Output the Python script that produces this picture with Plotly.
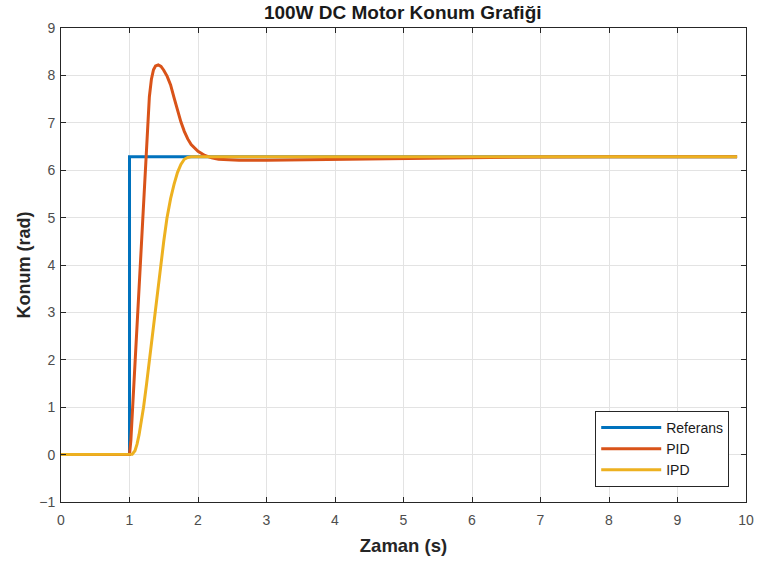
import plotly.graph_objects as go

# Referans (step input, 2*pi rad at t=1 s)
ref_t = [0, 1.0, 1.0, 9.87]
ref_y = [0, 0, 6.283, 6.283]

# PID response
pid_t = [0, 1.0, 1.02, 1.05, 1.08, 1.11, 1.14, 1.17, 1.20, 1.23, 1.26, 1.29, 1.32, 1.35, 1.38, 1.42,
         1.46, 1.50, 1.55, 1.60, 1.65, 1.70, 1.75, 1.80, 1.85, 1.90, 1.95, 2.0, 2.1, 2.2, 2.3, 2.45,
         2.6, 3.0, 4.0, 5.0, 6.0, 7.0, 8.0, 9.87]
pid_y = [0, 0, 0.3, 1.1, 1.9, 2.75, 3.6, 4.45, 5.3, 6.1, 6.95, 7.55, 7.92, 8.12, 8.2, 8.22,
         8.19, 8.11, 7.98, 7.8, 7.53, 7.27, 7.02, 6.82, 6.66, 6.54, 6.46, 6.40, 6.31, 6.26, 6.23, 6.215,
         6.21, 6.21, 6.23, 6.25, 6.27, 6.28, 6.283, 6.283]

# IPD response
ipd_t = [0, 1.0, 1.04, 1.08, 1.11, 1.14, 1.17, 1.205, 1.25, 1.29, 1.33, 1.366, 1.41, 1.45, 1.50,
         1.547, 1.60, 1.65, 1.70, 1.75, 1.80, 1.85, 1.90, 2.1, 3.0, 5.0, 9.87]
ipd_y = [0, 0, 0.01, 0.08, 0.22, 0.42, 0.68, 1.0, 1.5, 1.98, 2.5, 3.0, 3.5, 3.98, 4.5,
         4.99, 5.4, 5.7, 5.95, 6.12, 6.23, 6.27, 6.283, 6.285, 6.283, 6.283, 6.283]

series = [
    ("Referans", ref_t, ref_y, "#0072BD"),
    ("PID", pid_t, pid_y, "#D95319"),
    ("IPD", ipd_t, ipd_y, "#EDB120"),
]

x_ticks = list(range(0, 11))
y_ticks = list(range(-1, 10))

FONT = "Liberation Sans, Arial, sans-serif"

fig = go.Figure()
for name, t, y, c in series:
    fig.add_trace(go.Scatter(x=t, y=y, mode="lines", name=name,
                             line=dict(color=c, width=3)))

axis_common = dict(
    showgrid=True, gridcolor="#e3e3e3", gridwidth=1,
    showline=True, linecolor="#262626", linewidth=1, mirror="ticks",
    ticks="inside", ticklen=5, tickcolor="#262626",
    tickfont=dict(family=FONT, size=14, color="#4d4d4d"),
    zeroline=False, automargin=False,
)

fig.update_layout(
    width=757, height=564,
    margin=dict(l=61, r=11, t=28, b=62),
    paper_bgcolor="white", plot_bgcolor="white",
    title=dict(text="<b>100W DC Motor Konum Grafiği</b>", x=0.532, xanchor="center",
               y=0.978, yanchor="middle",
               font=dict(family=FONT, size=19, color="#1a1a1a")),
    xaxis=dict(range=[0, 10], tickvals=x_ticks, ticklabelstandoff=5,
               title=dict(text="<b>Zaman (s)</b>", standoff=12,
                          font=dict(family=FONT, size=18.5, color="#262626")),
               **axis_common),
    yaxis=dict(range=[-1, 9], tickvals=y_ticks, ticklabelstandoff=2,
               title=dict(text="<b>Konum (rad)</b>", standoff=3,
                          font=dict(family=FONT, size=18, color="#262626")),
               **axis_common),
    legend=dict(x=0.9755, y=0.032, xanchor="right", yanchor="bottom",
                bgcolor="white", bordercolor="#262626", borderwidth=1,
                font=dict(family=FONT, size=14, color="#1a1a1a"),
                tracegroupgap=0, itemwidth=60),
    showlegend=True,
)

fig.write_html("out.html")
